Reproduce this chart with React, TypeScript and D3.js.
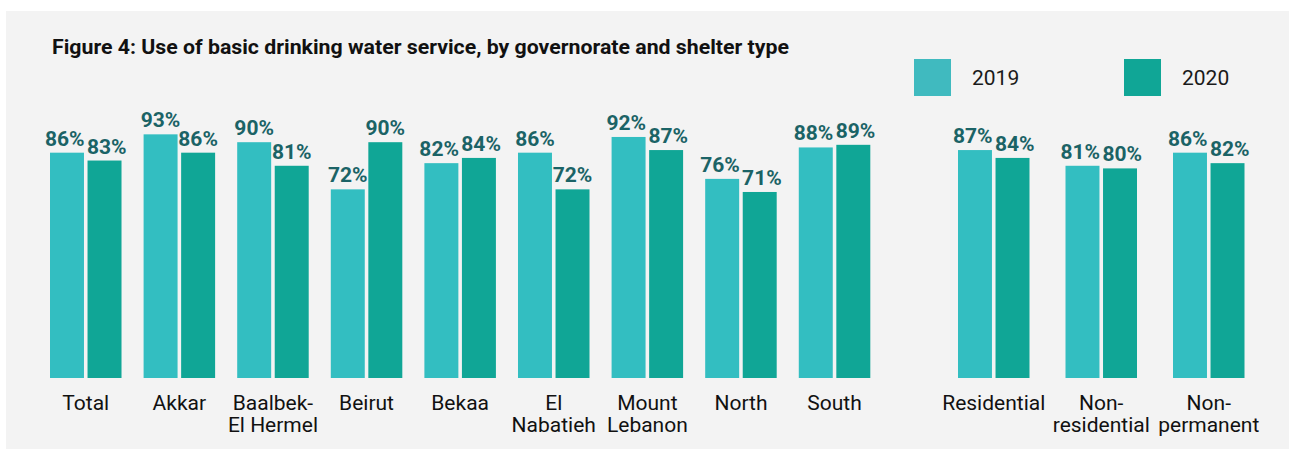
import React from "react";
import * as d3 from "d3";

const governorates = ["Total", "Akkar", "Baalbek-\nEl Hermel", "Beirut", "Bekaa", "El\nNabatieh", "Mount\nLebanon", "North", "South"];
const gov2019 = [86, 93, 90, 72, 82, 86, 92, 76, 88];
const gov2020 = [83, 86, 81, 90, 84, 72, 87, 71, 89];

const shelters = ["Residential", "Non-\nresidential", "Non-\npermanent"];
const shelter2019 = [87, 81, 86];
const shelter2020 = [84, 80, 82];

const years = ["2019", "2020"];
const title = "Figure 4: Use of basic drinking water service, by governorate and shelter type";

const W = 1291;
const H = 450;
const colors: Record<string, string> = { "2019": "#33bec1", "2020": "#10a696" };
const legendColors: Record<string, string> = { "2019": "#40babf", "2020": "#10a696" };
const labelColor = "#1b6366";
const FONT = "Roboto, 'Open Sans', sans-serif";

export default function App() {
  const y = d3.scaleLinear().domain([0, 100]).range([378, 116]);

  const xGov = d3.scaleBand<string>().domain(governorates).range([50, 870.3]).paddingInner(0.236).paddingOuter(0);
  const xShel = d3.scaleBand<string>().domain(shelters).range([958, 1244.5]).paddingInner(0.335).paddingOuter(0);
  const xYearGov = d3.scaleBand<string>().domain(years).range([0, xGov.bandwidth()]).paddingInner(0.095);
  const xYearShel = d3.scaleBand<string>().domain(years).range([0, xShel.bandwidth()]).paddingInner(0.095);

  const groups = [
    { cats: governorates, v: [gov2019, gov2020], x: xGov, xi: xYearGov },
    { cats: shelters, v: [shelter2019, shelter2020], x: xShel, xi: xYearShel },
  ];

  const minSep = 42;

  return (
    <svg width={W} height={H} style={{ position: "absolute", left: 0, top: 0, fontFamily: FONT }}>
      <rect x={6} y={11} width={1283} height={438} fill="#f3f3f3" />
      <text x={52} y={54} fontSize={20} fontWeight={700} fill="#111" textLength={737} lengthAdjust="spacingAndGlyphs">{title}</text>
      {years.map((yr, k) => (
        <g key={yr} transform={`translate(${914 + k * 210},59)`}>
          <rect width={37} height={37} fill={legendColors[yr]} />
          <text x={58} y={26} fontSize={21} fill="#1a1a1a">{yr}</text>
        </g>
      ))}
      {groups.map((g, gi) => (
        <g key={gi}>
          {g.cats.map((c, i) => {
            const bw = g.xi.bandwidth();
            const centers = years.map((yr) => (g.xi(yr) as number) + bw / 2);
            const tops = years.map((_, k) => y(g.v[k][i]));
            const dist = centers[1] - centers[0];
            const overlap = Math.abs(tops[0] - tops[1]) < 18 && dist < minSep;
            const nudge = overlap ? (minSep - dist) / 2 : 0;
            const lx = [centers[0] - nudge, centers[1] + nudge];
            return (
              <g key={c} transform={`translate(${g.x(c)},0)`}>
                {years.map((yr, k) => {
                  const val = g.v[k][i];
                  const bx = g.xi(yr) as number;
                  return (
                    <g key={yr}>
                      <rect x={bx} y={y(val)} width={bw} height={y(0) - y(val)} fill={colors[yr]} />
                      <text x={lx[k]} y={y(val) - 7} textAnchor="middle" fontSize={21} fontWeight={700} fill={labelColor}>
                        {val}%
                      </text>
                    </g>
                  );
                })}
                <text x={g.x.bandwidth() / 2} y={410} textAnchor="middle" fontSize={21} fill="#111">
                  {c.split("\n").map((line, li) => (
                    <tspan key={li} x={g.x.bandwidth() / 2} dy={li === 0 ? 0 : 21.7}>{line}</tspan>
                  ))}
                </text>
              </g>
            );
          })}
        </g>
      ))}
    </svg>
  );
}
